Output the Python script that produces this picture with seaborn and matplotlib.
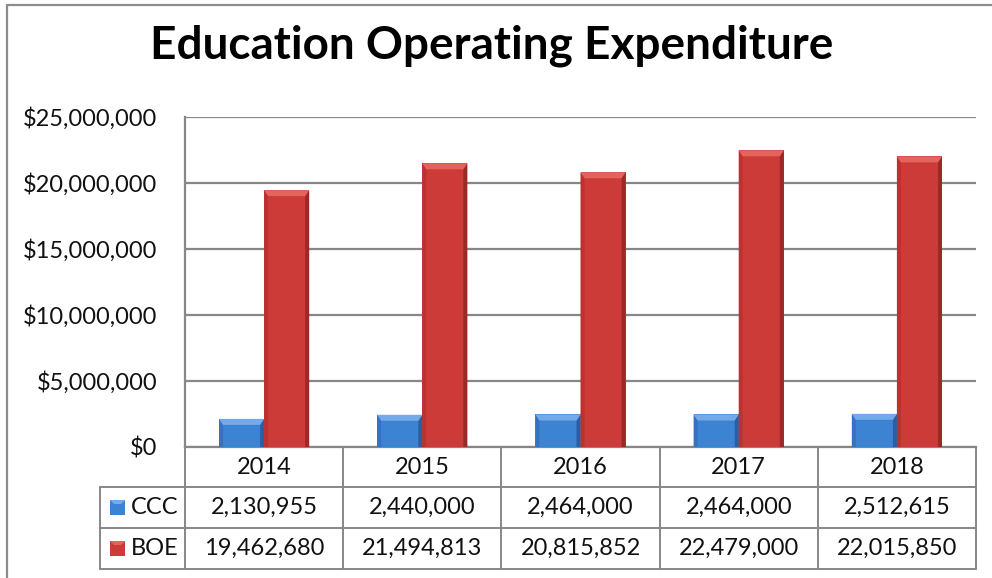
import matplotlib
matplotlib.use("Agg")
import matplotlib.pyplot as plt
import matplotlib.transforms as mtransforms
from matplotlib.colors import to_hex
from matplotlib.patches import Polygon, Rectangle
from matplotlib.lines import Line2D
import pandas as pd
import seaborn as sns

years = ["2014", "2015", "2016", "2017", "2018"]
series_names = ["CCC", "BOE"]
ccc_values = [2130955, 2440000, 2464000, 2464000, 2512615]
boe_values = [19462680, 21494813, 20815852, 22479000, 22015850]
y_ticks = [0, 5000000, 10000000, 15000000, 20000000, 25000000]
title_text = "Education Operating Expenditure"

# colours: body, top bevel, left edge, right edge
palette = {
    "CCC": dict(body="#3d83d4", top="#74aaea", left="#3572c0", right="#2a5fa6"),
    "BOE": dict(body="#cd3b38", top="#e3635f", left="#bb3231", right="#9a2927"),
}
grid_gray = "#878787"
FONT = "Lato"
FS = 17

df = pd.DataFrame({
    "year": years * 2,
    "series": [series_names[0]] * len(years) + [series_names[1]] * len(years),
    "value": ccc_values + boe_values,
})

W, H = 992, 578
sns.set_theme(style="white")
plt.rcParams["font.family"] = [FONT, "DejaVu Sans"]
fig = plt.figure(figsize=(W / 100, H / 100), dpi=100)

def fx(px):
    return px / W

def fy(py):
    return 1 - py / H

ax_left, ax_right, ax_top, ax_bottom = 185, 976, 117, 447
ax = fig.add_axes([fx(ax_left), fy(ax_bottom), fx(ax_right - ax_left), (ax_bottom - ax_top) / H])

sns.barplot(data=df, x="year", y="value", hue="series", order=years, hue_order=series_names,
            palette={k: v["body"] for k, v in palette.items()}, width=0.57, gap=0,
            saturation=1, legend=False, ax=ax, linewidth=0, zorder=3)

ax.set_xlim(-0.5, len(years) - 0.5)
ax.set_ylim(0, 25000000)
ax.set_yticks(y_ticks)
ax.set_yticklabels([f"${v:,.0f}" for v in y_ticks], fontsize=FS, color="#111111")
ax.tick_params(axis="y", length=0, pad=20)
ax.set_xticks([])
ax.set_xlabel("")
ax.set_ylabel("")
ax.yaxis.grid(True, color=grid_gray, linewidth=1.6, zorder=0)
ax.set_axisbelow(True)
for side in ("top", "right"):
    ax.spines[side].set_visible(False)
for side in ("left", "bottom"):
    ax.spines[side].set_color(grid_gray)
    ax.spines[side].set_linewidth(1.6)

fig.canvas.draw()

# bevelled bar faces, derived from each bar's own extent
inv = ax.transData.inverted()
bevel, edge = 6, 4
bar_patches = [p for p in ax.patches if isinstance(p, Rectangle)]
for patch in bar_patches:
    key = "CCC" if to_hex(patch.get_facecolor()) == palette["CCC"]["body"] else "BOE"
    cols = palette[key]
    bb = patch.get_window_extent()
    x0, y0, x1, y1 = bb.x0, bb.y0, bb.x1, bb.y1
    b = min(bevel, max((y1 - y0) / 2, 1))
    faces = [
        ("left", [(x0, y0), (x0, y1), (x0 + edge, y1 - b), (x0 + edge, y0)]),
        ("right", [(x1, y0), (x1, y1), (x1 - edge, y1 - b), (x1 - edge, y0)]),
        ("top", [(x0, y1), (x1, y1), (x1 - edge, y1 - b), (x0 + edge, y1 - b)]),
    ]
    for name, pts in faces:
        ax.add_patch(Polygon(inv.transform(pts), closed=True, facecolor=cols[name],
                             edgecolor="none", zorder=4, clip_on=False))

# data table beneath the axis
col_tf = mtransforms.blended_transform_factory(ax.transData, ax.transAxes)
ah = ax_bottom - ax_top
row_edges_px = [447, 487, 528, 569]
row_edges = [(ax_bottom - p) / ah for p in row_edges_px]
label_left = (100 - ax_left) / (ax_right - ax_left)
line_kw = dict(color=grid_gray, linewidth=1.4, clip_on=False, zorder=5)

for yv in row_edges[1:]:
    ax.add_line(Line2D([label_left, 1], [yv, yv], transform=ax.transAxes, **line_kw))
for xb in [i - 0.5 for i in range(len(years) + 1)]:
    ax.add_line(Line2D([xb, xb], [row_edges[0], row_edges[-1]], transform=col_tf, **line_kw))
ax.add_line(Line2D([label_left, label_left], [row_edges[1], row_edges[-1]],
                   transform=ax.transAxes, **line_kw))

txt_kw = dict(fontsize=FS, color="#111111", ha="center", va="center", clip_on=False)
for i, yr in enumerate(years):
    ax.text(i, (row_edges[0] + row_edges[1]) / 2, yr, transform=col_tf, **txt_kw)
for r, (name, vals) in enumerate(zip(series_names, [ccc_values, boe_values]), start=1):
    yc = (row_edges[r] + row_edges[r + 1]) / 2
    for i, v in enumerate(vals):
        ax.text(i, yc, f"{v:,.0f}", transform=col_tf, **txt_kw)
    # legend key
    key_px = 15
    kx0 = fx(110)
    kyc = fy(row_edges_px[r] + (row_edges_px[r + 1] - row_edges_px[r]) / 2)
    kw, kh = fx(key_px), key_px / H
    cols = palette[name]
    ky0 = kyc - kh / 2
    fig.add_artist(Rectangle((kx0, ky0), kw, kh, transform=fig.transFigure,
                             facecolor=cols["body"], edgecolor="none"))
    kb = 4
    pts = [(kx0, ky0 + kh), (kx0 + kw, ky0 + kh), (kx0 + kw - fx(kb), ky0 + kh - kb / H),
           (kx0 + fx(kb), ky0 + kh - kb / H)]
    fig.add_artist(Polygon(pts, closed=True, transform=fig.transFigure,
                           facecolor=cols["top"], edgecolor="none"))
    fig.text(fx(131), kyc, name, fontsize=FS, color="#111111", ha="left", va="center")

# title
fig.text(fx(492), fy(46), title_text, fontsize=33, fontweight="bold", color="#000000",
         ha="center", va="center")

# outer chart frame
frame_kw = dict(color="#8c8c8c", linewidth=1.6, transform=fig.transFigure)
fig.add_artist(Line2D([fx(7), 1.0], [fy(5), fy(5)], **frame_kw))
fig.add_artist(Line2D([fx(7), fx(7)], [fy(5), 0.0], **frame_kw))

fig.savefig("out.png", dpi=100, facecolor="white")
